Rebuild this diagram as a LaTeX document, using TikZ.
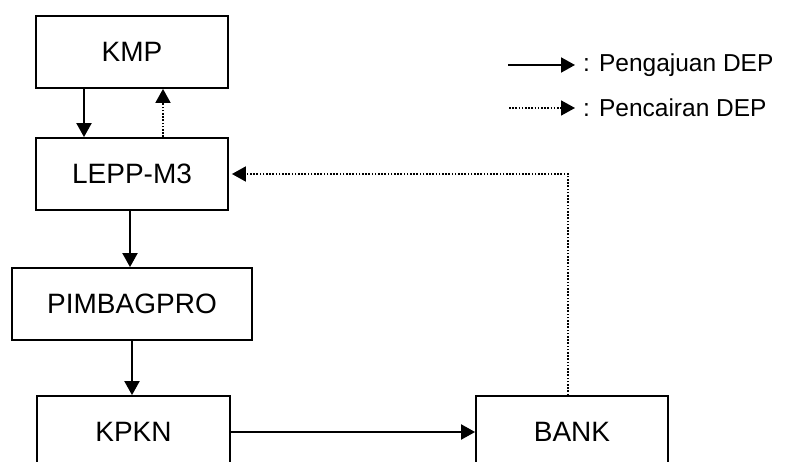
\documentclass[tikz,border=0pt]{standalone}
\usepackage{fontspec}
\setmainfont{Liberation Sans}
\usetikzlibrary{arrows.meta}
\begin{document}
\begin{tikzpicture}[x=1pt,y=-1pt,
  box/.style={draw,line width=1.8pt,font=\fontsize{28}{32}\selectfont,inner sep=0pt,minimum height=72pt},
  flow/.style={line width=1.9pt,-{Triangle[length=14pt,width=15pt]}},
  back/.style={line width=1.8pt,dash pattern=on 1.6pt off 1.6pt,-{Triangle[length=14pt,width=15pt]}},
  legtext/.style={anchor=west,inner sep=0pt,font=\fontsize{24.5}{29}\selectfont}]
\useasboundingbox (0,0) rectangle (789,462);
\clip (0,0) rectangle (789,462);
\node[box,minimum width=192pt] (KMP) at (132,52) {KMP};
\node[box,minimum width=192pt] (LEPP) at (132,174) {LEPP-M3};
\node[box,minimum width=240pt] (PIM) at (132,304) {PIMBAGPRO};
\node[box,minimum width=193pt] (KPKN) at (133.5,432) {KPKN};
\node[box,minimum width=192pt] (BANK) at (572,432) {BANK};
\draw[flow] ([xshift=-48pt]KMP.south) -- ([xshift=-48pt]LEPP.north);
\draw[back] ([xshift=31pt]LEPP.north) -- ([xshift=31pt]KMP.south);
\draw[flow] ([xshift=-2pt]LEPP.south) -- ([xshift=-2pt]PIM.north);
\draw[flow] (PIM.south) -- (PIM.south |- KPKN.north);
\draw[flow] (KPKN.east) -- (BANK.west);
\draw[back] ([xshift=-4pt]BANK.north) |- ([xshift=3pt]LEPP.east);
% legend
\coordinate (l1a) at (508,65);
\coordinate (l1b) at (575,65);
\coordinate (l2a) at (509,108);
\coordinate (l2b) at (575,108);
\draw[flow] (l1a) -- (l1b);
\draw[back] (l2a) -- (l2b);
\node[legtext] (t1) at (583,65) {: Pengajuan DEP};
\node[legtext] (t2) at (583,108) {: Pencairan DEP};
\end{tikzpicture}
\end{document}
